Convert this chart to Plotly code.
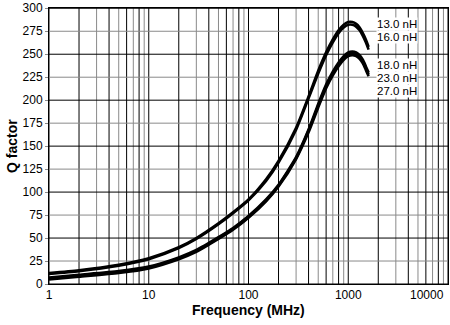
import plotly.graph_objects as go

# ---- data ----
freq_mhz = [1, 2, 5, 10, 20, 30, 50, 70, 100, 150, 200, 300, 400, 500, 600, 700, 800, 900, 1000, 1100, 1200, 1300, 1400, 1500, 1600]
q_13nh = [12, 15, 21, 28, 40, 50, 66, 78, 92, 114, 134, 170, 204, 232, 252, 266, 276, 282, 285, 285, 283, 279, 273, 266, 258]
q_16nh = [11, 14, 20, 27, 39, 49, 65, 77, 91, 112, 132, 168, 202, 229, 249, 263, 273, 279, 282, 282, 280, 276, 270, 263, 255]
q_18nh = [7, 10, 14, 19, 29, 37, 51, 61, 74, 92, 108, 138, 168, 196, 217, 231, 241, 248, 252, 253, 252, 249, 244, 237, 230]
q_23nh = [6, 9, 13, 18, 28, 36, 50, 60, 73, 91, 107, 137, 167, 194, 215, 229, 239, 246, 250, 251, 250, 247, 242, 235, 228]
q_27nh = [5, 8, 12, 17, 27, 35, 49, 59, 72, 90, 106, 136, 165, 192, 213, 227, 237, 244, 248, 249, 248, 245, 240, 233, 226]
series_names = ["13.0 nH", "16.0 nH", "18.0 nH", "23.0 nH", "27.0 nH"]
series_vals = [q_13nh, q_16nh, q_18nh, q_23nh, q_27nh]
label_y = [282.5, 268.5, 238.5, 224.5, 210.5]

x_ticks = [1, 10, 100, 1000, 10000]
x_ticktext = ["1", "10", "100", "1000", ""]
y_ticks = list(range(0, 301, 25))

FONT = "Liberation Sans, Arial, Helvetica, sans-serif"
BLACK = "#000000"
GRAY = "#8a8a8a"

fig = go.Figure()
for name, vals in zip(series_names, series_vals):
    fig.add_trace(go.Scatter(x=freq_mhz, y=vals, mode="lines", name=name,
                             line=dict(color=BLACK, width=2.6, shape="spline", smoothing=0.6),
                             showlegend=False, hoverinfo="skip"))

shapes = []
# vertical grid
for dec in [1, 10, 100, 1000]:
    for k in range(1, 10):
        v = dec * k
        col = BLACK if k in (1, 2, 4, 6, 8) else GRAY
        shapes.append(dict(type="line", xref="x", yref="paper", x0=v, x1=v,
                           y0=0, y1=1, line=dict(color=col, width=1), layer="below"))
shapes.append(dict(type="line", xref="x", yref="paper", x0=10000, x1=10000, y0=0, y1=1,
                   line=dict(color=BLACK, width=1), layer="below"))
# horizontal grid
for v in y_ticks:
    col = BLACK if v % 50 == 0 else GRAY
    shapes.append(dict(type="line", xref="paper", yref="y", x0=0, x1=1, y0=v, y1=v,
                       line=dict(color=col, width=1), layer="below"))

annotations = []
for name, ly in zip(series_names, label_y):
    annotations.append(dict(x=3.275, y=ly, xref="x", yref="y", text=name, showarrow=False,
                            xanchor="left", yanchor="middle", bgcolor="white", borderpad=0,
                            font=dict(family=FONT, size=11.5, color=BLACK)))
annotations.append(dict(x=1.0, y=0, xref="paper", yref="paper", text="10000", showarrow=False,
                        xanchor="right", yanchor="top", yshift=-2, xshift=-2,
                        font=dict(family=FONT, size=12, color=BLACK)))
annotations.append(dict(x=0.5, y=0, xref="paper", yref="paper", text="<b>Frequency (MHz)</b>",
                        showarrow=False, xanchor="center", yanchor="top", yshift=-16,
                        font=dict(family=FONT, size=14, color=BLACK)))
annotations.append(dict(x=0, y=0.5, xref="paper", yref="paper", text="<b>Q factor</b>",
                        showarrow=False, xanchor="center", yanchor="middle", xshift=-37, textangle=-90,
                        font=dict(family=FONT, size=14, color=BLACK)))

fig.update_layout(
    width=450, height=325,
    margin=dict(l=49, r=1, t=5, b=41),
    paper_bgcolor="white", plot_bgcolor="white",
    shapes=shapes, annotations=annotations,
    font=dict(family=FONT, size=12, color=BLACK),
    xaxis=dict(type="log", range=[0, 4], tickvals=x_ticks, ticktext=x_ticktext,
               showgrid=False, zeroline=False, showline=True, linecolor=BLACK, linewidth=1,
               mirror=True, ticks="", tickfont=dict(family=FONT, size=12, color=BLACK)),
    yaxis=dict(range=[0, 300.3], tickvals=y_ticks, showgrid=False, zeroline=False,
               showline=True, linecolor=BLACK, linewidth=1, mirror=True,
               ticks="outside", ticklen=3, tickcolor=GRAY, ticklabeloverflow="allow",
               tickfont=dict(family=FONT, size=12, color=BLACK)),
)

fig.write_html("out.html")
